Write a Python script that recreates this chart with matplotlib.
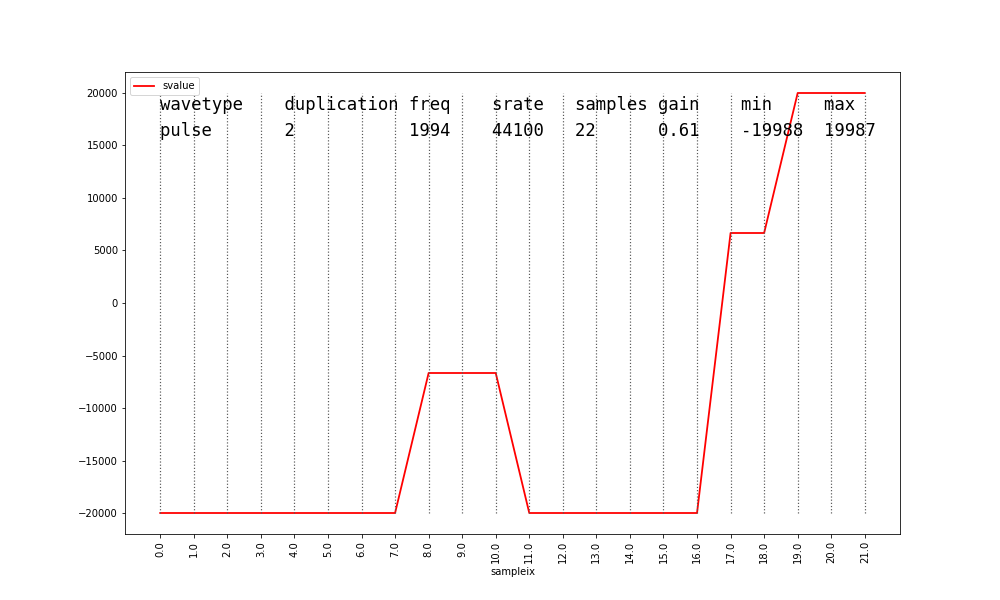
import numpy as np
import matplotlib
matplotlib.use("Agg")
import matplotlib.pyplot as plt

# sample values
sampleix = list(range(22))
svalue = [-19988] * 8 + [-6663] * 3 + [-19988] * 6 + [6662] * 2 + [19987] * 3

# info table shown at the top of the plot
header = ["wavetype", "duplication", "freq", "srate", "samples", "gain", "min", "max"]
row = ["pulse", "2", "1994", "44100", "22", "0.61", "-19988", "19987"]
widths = [12, 12, 8, 8, 8, 8, 8, 8]

fig, ax = plt.subplots(figsize=(1000 / 72, 600 / 72), dpi=72)

ax.plot(sampleix, svalue, color="red", linewidth=1.8, label="svalue")
ax.vlines(sampleix, min(svalue), max(svalue), colors="0.35", linestyles=":", linewidth=1.2)

line1 = "".join(h.ljust(w) for h, w in zip(header, widths))
line2 = "".join(r.ljust(w) for r, w in zip(row, widths))
ax.annotate(line1 + "\n" + line2, xy=(sampleix[0], max(svalue)), xytext=(0, -3),
            textcoords="offset points", family="DejaVu Sans Mono",
            fontsize=17.3, va="top", ha="left", linespacing=1.55)

ax.set_xticks(sampleix)
ax.set_xticklabels([f"{float(x):.1f}" for x in sampleix], rotation=90)
ax.set_xlabel("sampleix")
ax.legend(loc="upper left")

fig.savefig("out.png")
